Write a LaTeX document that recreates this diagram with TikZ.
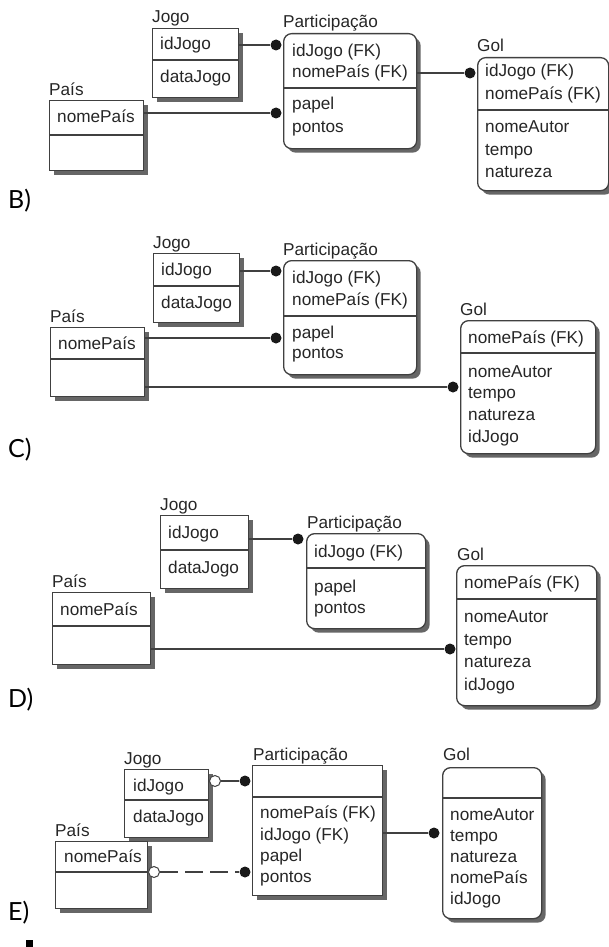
\documentclass[tikz,border=0pt]{standalone}
\usepackage{fontspec}
\setmainfont{Liberation Sans}
\newfontfamily\letterfont{Lato}
\usetikzlibrary{shadows}
\begin{document}
\begin{tikzpicture}[x=1pt,y=-1pt,
  ent/.style={draw=black!75, line width=1.3pt, fill=white, inner sep=0pt, anchor=north west,
    drop shadow={shadow xshift=4pt, shadow yshift=-4pt, fill=black!60, opacity=1}},
  rnd/.style={ent, rounded corners=8pt},
  div/.style={draw=black!75, line width=1.3pt},
  txt/.style={anchor=base west, inner sep=0pt, text=black!85, font=\fontsize{17.2}{18}\selectfont},
  ttl/.style={txt},
  con/.style={draw=black!75, line width=1.2pt},
  dot/.style={circle, fill=black!90, inner sep=0pt, minimum size=11pt},
  hollow/.style={circle, draw=black!75, fill=white, line width=1pt, inner sep=0pt, minimum size=11pt},
  lbl/.style={anchor=west, inner sep=0pt, font=\letterfont\fontsize{25}{25}\selectfont}
]
\useasboundingbox (0,0) rectangle (609,947);

% ================= B =================
\node[ttl] (tjB) at (152,23) {Jogo};
\node[ent, minimum width=86pt, minimum height=69pt] (jB) at (152,28) {};
\draw[div] (jB.west |- 0,60) -- (jB.east |- 0,60);
\node[txt] (jB1) at (160,50) {idJogo};
\node[txt] (jB2) at (160,83) {dataJogo};

\node[ttl] (tpB) at (49,96) {País};
\node[ent, minimum width=94pt, minimum height=70pt] (pB) at (49,100) {};
\draw[div] (pB.west |- 0,135) -- (pB.east |- 0,135);
\node[txt] (pB1) at (57,123) {nomePaís};

\node[ttl] (taB) at (283,28) {Participação};
\node[rnd, minimum width=133pt, minimum height=115pt] (aB) at (283,33) {};
\draw[div] (aB.west |- 0,88) -- (aB.east |- 0,88);
\node[txt] (aB1) at (292,57) {idJogo (FK)};
\node[txt] (aB2) at (292,78) {nomePaís (FK)};
\node[txt] (aB3) at (292,110) {papel};
\node[txt] (aB4) at (292,132) {pontos};

\node[ttl] (tgB) at (477,52) {Gol};
\node[rnd, minimum width=131pt, minimum height=133pt] (gB) at (477,57) {};
\draw[div] (gB.west |- 0,110) -- (gB.east |- 0,110);
\node[txt] (gB1) at (485,77) {idJogo (FK)};
\node[txt] (gB2) at (485,100) {nomePaís (FK)};
\node[txt] (gB3) at (485,132) {nomeAutor};
\node[txt] (gB4) at (485,155) {tempo};
\node[txt] (gB5) at (485,177) {natureza};

\node[dot] (dB1) at (276,45) {};
\node[dot] (dB2) at (276,113) {};
\node[dot] (dB3) at (470,73) {};
\draw[con] (jB.east |- dB1) -- (dB1);
\draw[con] (pB.east |- dB2) -- (dB2);
\draw[con] (aB.east |- dB3) -- (dB3);

\node[lbl] (LB) at (8,201) {B)};

% ================= C =================
\node[ttl] (tjC) at (153,248) {Jogo};
\node[ent, minimum width=86pt, minimum height=69pt] (jC) at (153,253) {};
\draw[div] (jC.west |- 0,286) -- (jC.east |- 0,286);
\node[txt] (jC1) at (161,275) {idJogo};
\node[txt] (jC2) at (161,308) {dataJogo};

\node[ttl] (tpC) at (50,322) {País};
\node[ent, minimum width=94pt, minimum height=69pt] (pC) at (50,327) {};
\draw[div] (pC.west |- 0,359) -- (pC.east |- 0,359);
\node[txt] (pC1) at (58,349) {nomePaís};

\node[ttl] (taC) at (283,255) {Participação};
\node[rnd, minimum width=133pt, minimum height=114pt] (aC) at (283,260) {};
\draw[div] (aC.west |- 0,316) -- (aC.east |- 0,316);
\node[txt] (aC1) at (292,283) {idJogo (FK)};
\node[txt] (aC2) at (292,305) {nomePaís (FK)};
\node[txt] (aC3) at (292,338) {papel};
\node[txt] (aC4) at (292,358) {pontos};

\node[ttl] (tgC) at (460,315) {Gol};
\node[rnd, minimum width=135pt, minimum height=133pt] (gC) at (460,320) {};
\draw[div] (gC.west |- 0,353) -- (gC.east |- 0,353);
\node[txt] (gC1) at (468,343) {nomePaís (FK)};
\node[txt] (gC2) at (468,377) {nomeAutor};
\node[txt] (gC3) at (468,398) {tempo};
\node[txt] (gC4) at (468,420) {natureza};
\node[txt] (gC5) at (468,442) {idJogo};

\node[dot] (dC1) at (276,271) {};
\node[dot] (dC2) at (276,338) {};
\node[dot] (dC3) at (453,387) {};
\draw[con] (jC.east |- dC1) -- (dC1);
\draw[con] (pC.east |- dC2) -- (dC2);
\draw[con] (pC.east |- dC3) -- (dC3);

\node[lbl] (LC) at (8,450) {C)};

% ================= D =================
\node[ttl] (tjD) at (160,510) {Jogo};
\node[ent, minimum width=88pt, minimum height=73pt] (jD) at (160,515) {};
\draw[div] (jD.west |- 0,550) -- (jD.east |- 0,550);
\node[txt] (jD1) at (168,538) {idJogo};
\node[txt] (jD2) at (168,573) {dataJogo};

\node[ttl] (tpD) at (52,587) {País};
\node[ent, minimum width=98pt, minimum height=72pt] (pD) at (52,592) {};
\draw[div] (pD.west |- 0,626) -- (pD.east |- 0,626);
\node[txt] (pD1) at (60,615) {nomePaís};

\node[ttl] (taD) at (307,528) {Participação};
\node[rnd, minimum width=119pt, minimum height=95pt] (aD) at (306,533) {};
\draw[div] (aD.west |- 0,568) -- (aD.east |- 0,568);
\node[txt] (aD1) at (314,557) {idJogo (FK)};
\node[txt] (aD2) at (314,592) {papel};
\node[txt] (aD3) at (314,613) {pontos};

\node[ttl] (tgD) at (457,560) {Gol};
\node[rnd, minimum width=140pt, minimum height=140pt] (gD) at (456,565) {};
\draw[div] (gD.west |- 0,599) -- (gD.east |- 0,599);
\node[txt] (gD1) at (464,588) {nomePaís (FK)};
\node[txt] (gD2) at (464,622) {nomeAutor};
\node[txt] (gD3) at (464,645) {tempo};
\node[txt] (gD4) at (464,667) {natureza};
\node[txt] (gD5) at (464,690) {idJogo};

\node[dot] (dD1) at (298,539) {};
\node[dot] (dD2) at (450,649) {};
\draw[con] (jD.east |- dD1) -- (dD1);
\draw[con] (pD.east |- dD2) -- (dD2);

\node[lbl] (LD) at (8,700) {D)};

% ================= E =================
\node[ttl] (tjE) at (124,764) {Jogo};
\node[ent, minimum width=84pt, minimum height=68pt] (jE) at (124,769) {};
\draw[div] (jE.west |- 0,800) -- (jE.east |- 0,800);
\node[txt] (jE1) at (133,791) {idJogo};
\node[txt] (jE2) at (133,822) {dataJogo};

\node[ttl] (tpE) at (55,836) {País};
\node[ent, minimum width=92pt, minimum height=67pt] (pE) at (55,841) {};
\draw[div] (pE.west |- 0,872) -- (pE.east |- 0,872);
\node[txt] (pE1) at (64,862) {nomePaís};

\node[ttl] (taE) at (253,760) {Participação};
\node[ent, minimum width=130pt, minimum height=130pt] (aE) at (252,765) {};
\draw[div] (aE.west |- 0,797) -- (aE.east |- 0,797);
\node[txt] (aE1) at (260,818) {nomePaís (FK)};
\node[txt] (aE2) at (260,840) {idJogo (FK)};
\node[txt] (aE3) at (260,861) {papel};
\node[txt] (aE4) at (260,882) {pontos};

\node[ttl] (tgE) at (443,760) {Gol};
\node[rnd, minimum width=99pt, minimum height=151pt] (gE) at (442,767) {};
\draw[div] (gE.west |- 0,798) -- (gE.east |- 0,798);
\node[txt] (gE1) at (450,820) {nomeAutor};
\node[txt] (gE2) at (450,841) {tempo};
\node[txt] (gE3) at (450,862) {natureza};
\node[txt] (gE4) at (450,883) {nomePaís};
\node[txt] (gE5) at (450,904) {idJogo};

\node[hollow] (hE1) at (215,781) {};
\node[hollow] (hE2) at (154,872) {};
\node[dot] (dE1) at (245,781) {};
\node[dot] (dE2) at (245,872) {};
\node[dot] (dE3) at (434,833) {};
\draw[con] (hE1) -- (dE1);
\draw[con, dash pattern=on 18pt off 7pt] (hE2) -- (dE2);
\draw[con] (aE.east |- dE3) -- (dE3);

\node[lbl] (LE) at (8,913) {E)};
\fill[black] (26,940) rectangle (33,947);
\end{tikzpicture}
\end{document}
